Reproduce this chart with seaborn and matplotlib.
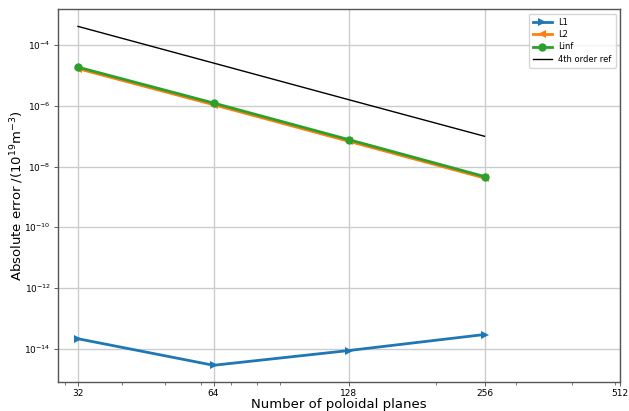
import matplotlib
matplotlib.use("Agg")
import matplotlib.pyplot as plt
import matplotlib.ticker as mticker
import numpy as np
import pandas as pd
import seaborn as sns

# Convergence study: error norms vs. number of poloidal planes
planes = [32, 64, 128, 256]
err_l1 = [2.1e-14, 2.8e-15, 8.6e-15, 2.9e-14]
err_l2 = [1.7e-5, 1.1e-6, 6.8e-8, 4.2e-9]
err_linf = [1.9e-5, 1.25e-6, 7.7e-8, 4.7e-9]
ref_4th = [4.2e-4, 2.6e-5, 1.6e-6, 1.0e-7]
xtick_values = [32, 64, 128, 256, 512]

df = pd.DataFrame({
    "planes": planes * 3,
    "error": err_l1 + err_l2 + err_linf,
    "norm": ["L1"] * 4 + ["L2"] * 4 + ["Linf"] * 4,
})
df_ref = pd.DataFrame({"planes": planes, "error": ref_4th})

plt.style.use("default")
fig = plt.figure(figsize=(6.29, 4.11), dpi=100)
ax = fig.add_axes([0.0917, 0.07, 0.894, 0.907])

palette = {"L1": "#1f77b4", "L2": "#ff7f0e", "Linf": "#2ca02c"}
markers = {"L1": ">", "L2": "<", "Linf": "o"}
for name in ["L1", "L2", "Linf"]:
    sub = df[df["norm"] == name]
    sns.lineplot(data=sub, x="planes", y="error", ax=ax, color=palette[name],
                 marker=markers[name], markersize=6, markeredgewidth=0,
                 linewidth=2, label=name)
sns.lineplot(data=df_ref, x="planes", y="error", ax=ax, color="black",
             linewidth=1, label="4th order ref")

ax.set_xscale("log")
ax.set_yscale("log")
ax.set_xticks(xtick_values)
ax.xaxis.set_major_formatter(mticker.FixedFormatter([str(v) for v in xtick_values]))
ax.xaxis.set_minor_formatter(mticker.NullFormatter())
ax.set_yticks([1e-14, 1e-12, 1e-10, 1e-8, 1e-6, 1e-4])
ax.tick_params(axis="both", which="major", labelsize=6.5, length=3, width=0.6,
               color="#444444", pad=2)
ax.tick_params(axis="both", which="minor", length=2, width=0.5, color="#444444")
ax.set_xlim(32 / 2 ** 0.15, 512)
ax.grid(True, which="major", color="#cccccc", linewidth=1)
ax.set_axisbelow(True)
for s in ax.spines.values():
    s.set_color("#555555")
    s.set_linewidth(1)

ax.set_xlabel("Number of poloidal planes", fontsize=9.5, labelpad=0)
ax.set_ylabel(r"Absolute error /(10$^{19}$m$^{-3}$)", fontsize=9.5, labelpad=-1)

ax.legend(loc="upper right", fontsize=6, frameon=True, framealpha=0.8,
          edgecolor="#cccccc", handlelength=2.2, borderpad=0.5,
          labelspacing=0.4)

fig.savefig("out.png", dpi=100)
